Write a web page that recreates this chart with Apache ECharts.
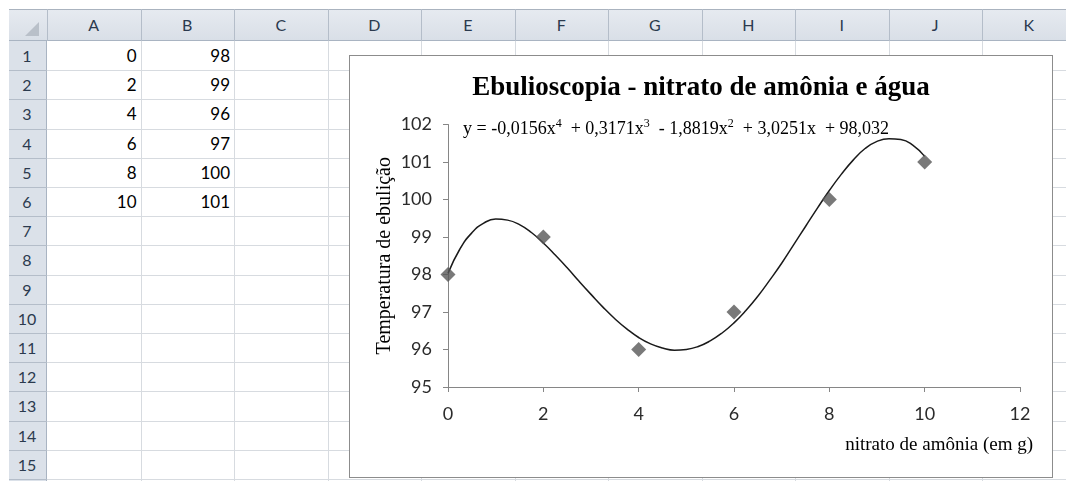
<!DOCTYPE html>
<html><head><meta charset="utf-8">
<script src="https://cdn.jsdelivr.net/npm/echarts@6/dist/echarts.min.js"></script>
<style>
html,body{margin:0;padding:0;background:#fff;width:1066px;height:481px;overflow:hidden;position:relative;}
#sheet{position:absolute;left:0;top:0;width:1066px;height:481px;font-family:Lato,'Open Sans',sans-serif;}
.b{position:absolute;box-sizing:border-box;}
.hdr{color:#2b3a4e;font-size:16px;text-align:center;}
.val{color:#000;font-size:17px;text-align:right;}
#chart{position:absolute;left:349px;top:55px;width:704px;height:423px;box-sizing:border-box;border:1px solid #8c8c8c;background:#fff;}
#chartInner{width:702px;height:421px;}
</style></head><body>
<div id="sheet"></div>
<div id="chart"><div id="chartInner"></div></div>
<script>
// ---- data ----
const columnLetters = ['A','B','C','D','E','F','G','H','I','J','K'];
const rowNumbers = [1,2,3,4,5,6,7,8,9,10,11,12,13,14,15];
const massValues = [0, 2, 4, 6, 8, 10];
const boilingTemps = [98, 99, 96, 97, 100, 101];
// trendline
const trendX = [0,0.25,0.5,0.75,1,1.25,1.5,1.75,2,2.25,2.5,2.75,3,3.25,3.5,3.75,4,4.25,4.5,4.75,5,
                5.25,5.5,5.75,6,6.25,6.5,6.75,7,7.25,7.5,7.75,8,8.25,8.5,8.75,9,9.25,9.5,9.75,10];
const trendY = [98.03,98.68,99.11,99.37,99.48,99.45,99.33,99.12,98.84,98.52,98.18,97.82,97.47,97.13,96.82,96.55,96.32,96.15,96.04,95.98,96.00,
                96.08,96.23,96.44,96.71,97.04,97.42,97.85,98.30,98.79,99.28,99.77,100.24,100.67,101.05,101.36,101.55,101.62,101.60,101.45,101.15];
const titleText = 'Ebulioscopia - nitrato de amônia e água';
const yAxisName = 'Temperatura de ebulição';
const xAxisName = 'nitrato de amônia (em g)';

// ---- spreadsheet background ----
const sheet = document.getElementById('sheet');
const left0 = 9, top0 = 9, rowHdrW = 38, colHdrH = 32, colW = 93.5, rowH = 29.2;
const gx0 = left0 + rowHdrW, gy0 = top0 + colHdrH;
function box(x, y, w, h, style, text, cls) {
  const d = document.createElement('div');
  d.className = 'b' + (cls ? ' ' + cls : '');
  d.style.left = x + 'px'; d.style.top = y + 'px';
  d.style.width = w + 'px'; d.style.height = h + 'px';
  if (style) d.setAttribute('style', d.getAttribute('style') + ';' + style);
  if (text !== undefined) d.textContent = text;
  sheet.appendChild(d);
  return d;
}
box(left0, top0, 1066 - left0, colHdrH, 'background:linear-gradient(#e6eaf0,#d9dfe7);border-top:1px solid #aab3bf;border-bottom:1px solid #a9b4c2');
box(left0, gy0, rowHdrW, 481 - gy0, 'background:#dbe1e9;border-right:1px solid #a9b4c2');
box(left0 + 16, top0 + 13, 14, 14, 'background:#b9c0c9;clip-path:polygon(100% 0,100% 100%,0 100%)');
columnLetters.forEach((c, i) => {
  const x = gx0 + i * colW;
  box(x, top0, 1, colHdrH, 'background:#b4bdc9');
  box(x, top0, colW, colHdrH, 'line-height:' + colHdrH + 'px', c, 'hdr');
});
columnLetters.forEach((c, i) => {
  const x = gx0 + (i + 1) * colW;
  box(x, gy0, 1, 481 - gy0, 'background:#d7dbe0');
});
rowNumbers.forEach((r, i) => {
  const y = gy0 + (i + 1) * rowH;
  box(gx0, y, 1066 - gx0, 1, 'background:#d7dbe0');
  box(left0, y, rowHdrW, 1, 'background:#b4bdc9');
  box(left0, gy0 + i * rowH, rowHdrW - 2, rowH, 'line-height:' + rowH + 'px', String(r), 'hdr');
});
massValues.forEach((v, i) => {
  box(gx0, gy0 + i * rowH, colW - 4, rowH, 'line-height:' + rowH + 'px', String(v), 'val');
  box(gx0 + colW, gy0 + i * rowH, colW - 4, rowH, 'line-height:' + rowH + 'px', String(boilingTemps[i]), 'val');
});

// ---- chart ----
const chart = echarts.init(document.getElementById('chartInner'), null, {renderer: 'canvas'});
const serif = 'Liberation Serif, Times New Roman, serif';
const axisCommon = {
  axisLine: {show: true, onZero: false, lineStyle: {color: '#868686', width: 1}},
  axisTick: {show: true, inside: false, length: 5, lineStyle: {color: '#868686'}},
  splitLine: {show: false},
  axisLabel: {color: '#2b2b2b', fontFamily: 'Lato, sans-serif', fontSize: 18}
};
chart.setOption({
  animation: false,
  backgroundColor: '#fff',
  title: [
    {text: titleText, left: 'center', top: 14,
     textStyle: {fontFamily: serif, fontWeight: 'bold', fontSize: 27, color: '#000'}},
    {text: '{n|y = -0,0156x}{s|4}{n|  + 0,3171x}{s|3}{n|  - 1,8819x}{s|2}{n|  + 3,0251x  + 98,032}',
     left: 108, top: 57,
     textStyle: {fontWeight: 'normal', rich: {
       n: {fontFamily: serif, fontSize: 18, fontWeight: 'normal', color: '#000', lineHeight: 22},
       s: {fontFamily: serif, fontSize: 12, fontWeight: 'normal', color: '#000', lineHeight: 13, verticalAlign: 'top'}
     }}}
  ],
  grid: {left: 98, right: 32, top: 68.5, bottom: 90},
  xAxis: Object.assign({}, axisCommon, {
    type: 'value', min: 0, max: 12, interval: 2,
    name: xAxisName, nameLocation: 'end', nameGap: 13, nameMoveOverlap: false,
    nameTextStyle: {fontFamily: serif, fontSize: 19, color: '#000', align: 'right', verticalAlign: 'top', padding: [49, 0, 0, 0]},
    axisLabel: Object.assign({}, axisCommon.axisLabel, {margin: 18})
  }),
  yAxis: Object.assign({}, axisCommon, {
    type: 'value', min: 95, max: 102, interval: 1,
    name: yAxisName, nameLocation: 'middle', nameGap: 53, nameMoveOverlap: false,
    nameTextStyle: {fontFamily: serif, fontSize: 20, color: '#000'},
    axisLabel: Object.assign({}, axisCommon.axisLabel, {margin: 16})
  }),
  series: [
    {type: 'line', data: trendX.map((x, i) => [x, trendY[i]]), smooth: true, showSymbol: false,
     lineStyle: {color: '#1a1a1a', width: 1.5}, z: 2, silent: true},
    {type: 'scatter', data: massValues.map((x, i) => [x, boilingTemps[i]]), symbol: 'diamond',
     symbolSize: 15, itemStyle: {color: '#575757'}, z: 3}
  ]
});
</script>
</body></html>
